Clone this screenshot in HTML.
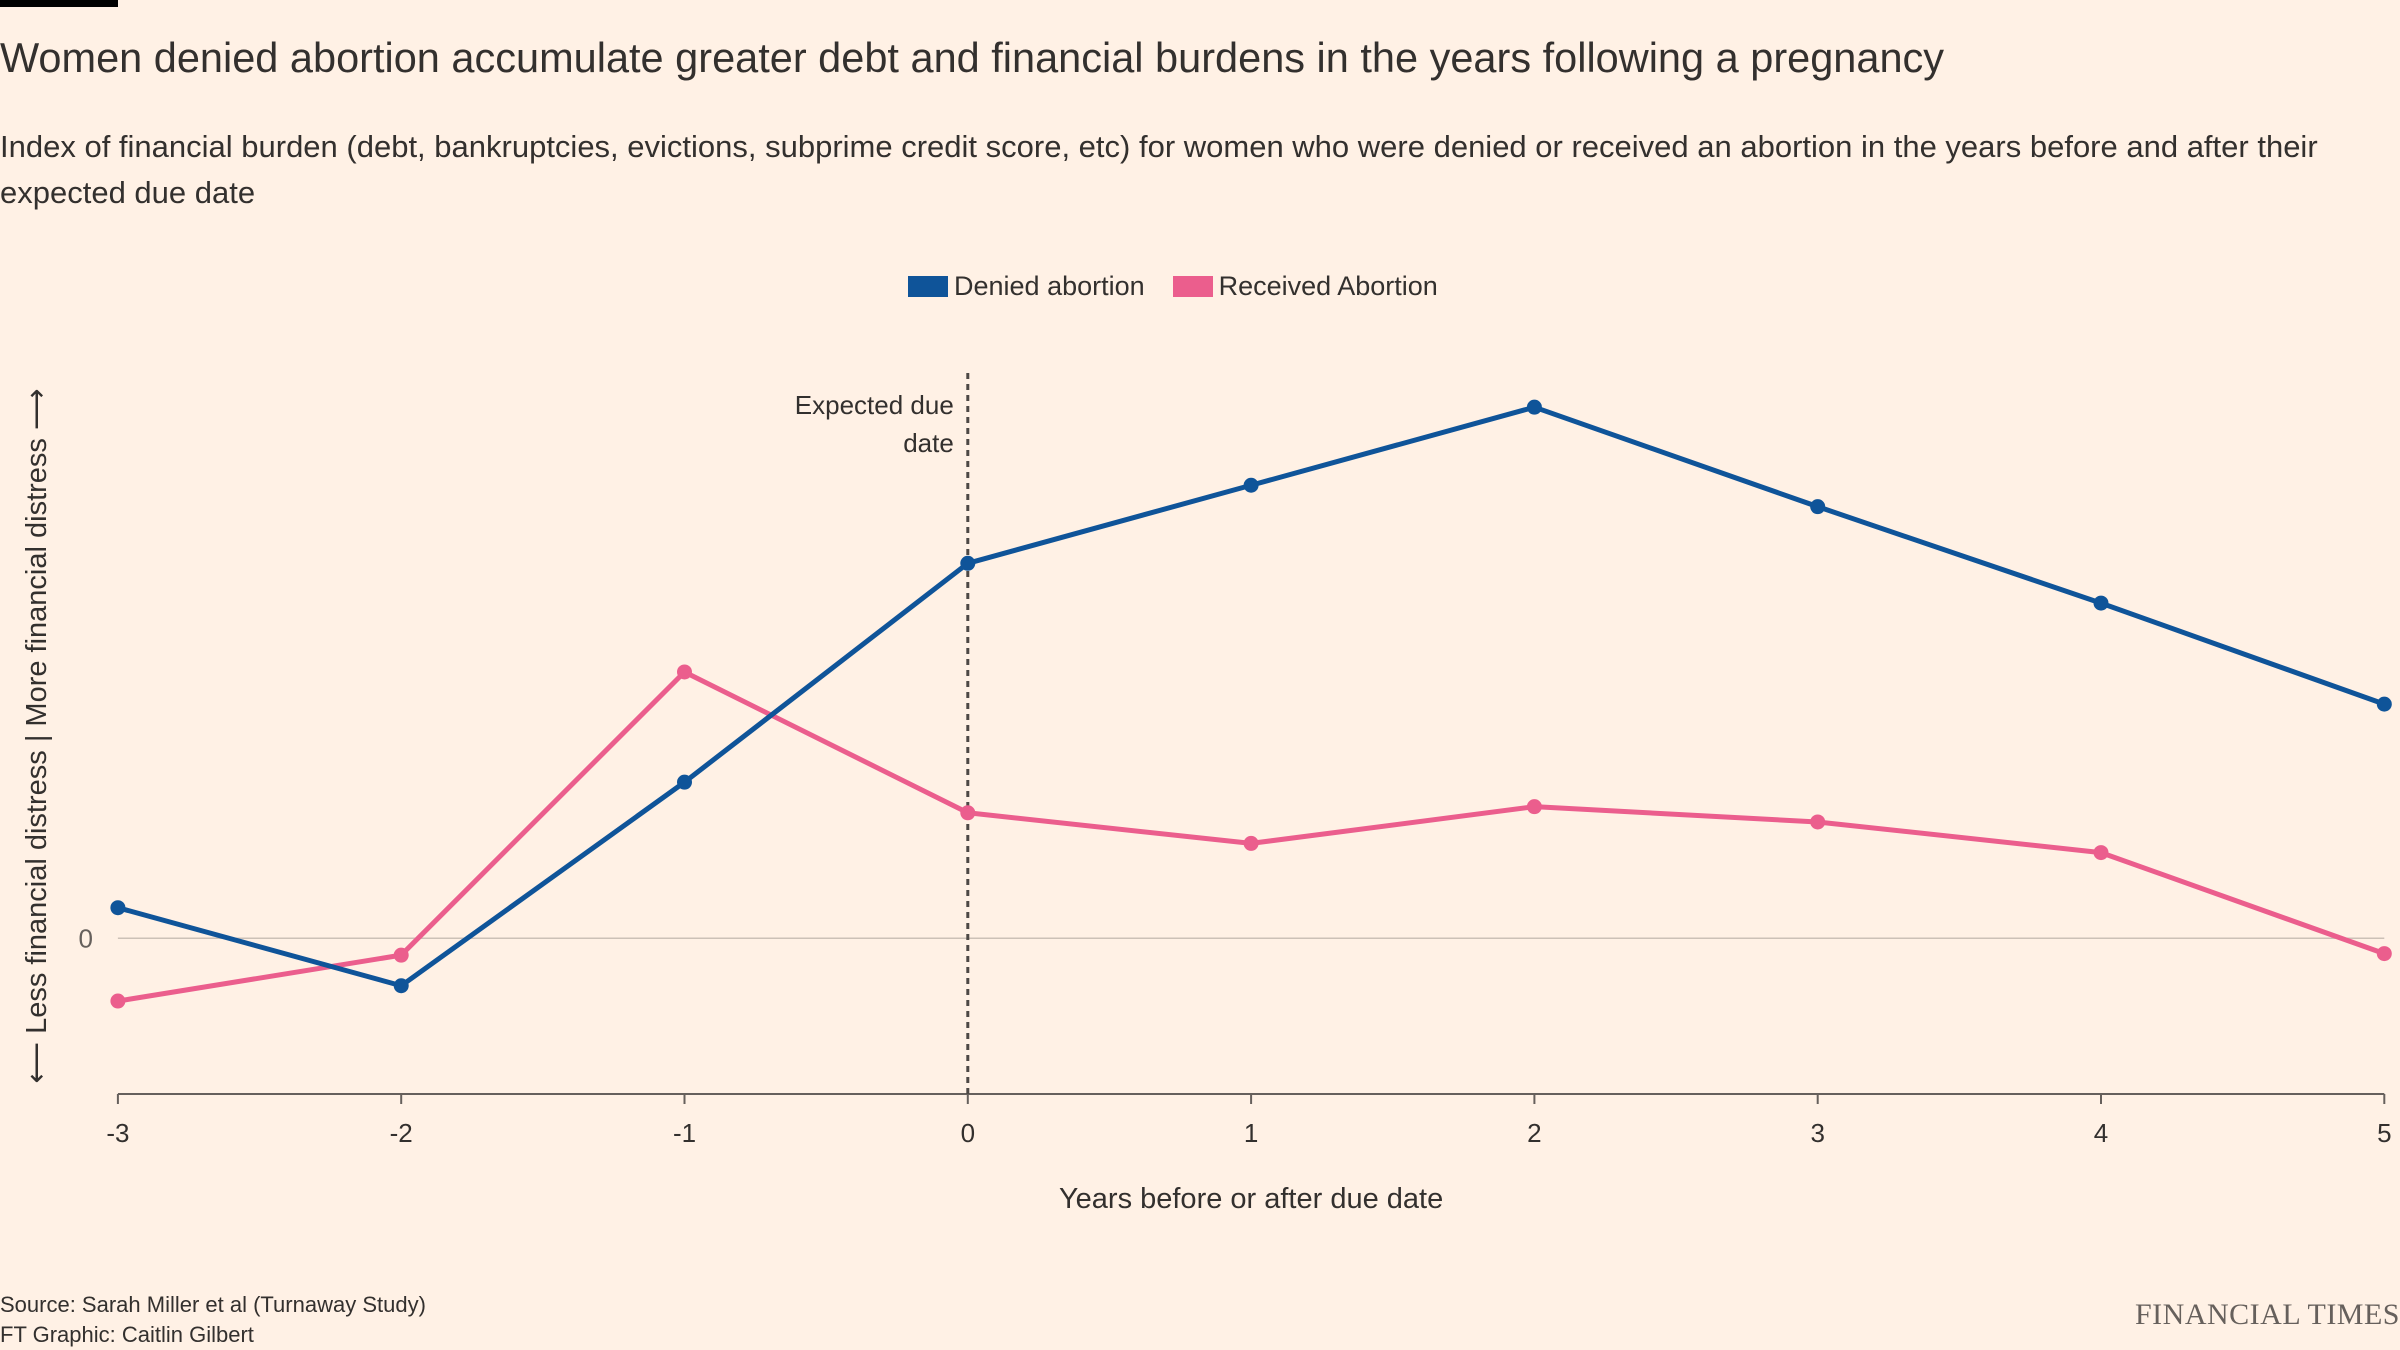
<!DOCTYPE html>
<html><head><meta charset="utf-8">
<style>
html,body{margin:0;padding:0;background:#fff1e5;}
body{width:2400px;height:1350px;position:relative;overflow:hidden;font-family:"Liberation Sans",sans-serif;color:#33302e;}
.t{position:absolute;white-space:nowrap;}
</style></head>
<body>
<div style="position:absolute;left:0;top:0;width:118px;height:7px;background:#000;"></div>
<div class="t" style="left:0;top:34px;font-size:41.5px;">Women denied abortion accumulate greater debt and financial burdens in the years following a pregnancy</div>
<div class="t" style="left:0;top:124px;font-size:31px;line-height:46px;">Index of financial burden (debt, bankruptcies, evictions, subprime credit score, etc) for women who were denied or received an abortion in the years before and after their<br>expected due date</div>
<div style="position:absolute;left:908px;top:271px;font-size:27px;display:flex;align-items:center;">
 <span style="display:flex;align-items:center;"><span style="display:inline-block;width:40px;height:21px;background:#0f5499;margin-right:6px;"></span>Denied abortion</span>
 <span style="display:flex;align-items:center;margin-left:28px;"><span style="display:inline-block;width:40px;height:21px;background:#eb5e8d;margin-right:6px;"></span>Received Abortion</span>
</div>
<svg id="chart" width="2400" height="1350" style="position:absolute;left:0;top:0;" xmlns="http://www.w3.org/2000/svg"></svg>
<div class="t" style="left:0;top:1290px;font-size:22px;line-height:30px;">Source: Sarah Miller et al (Turnaway Study)<br>FT Graphic: Caitlin Gilbert</div>
<div class="t" style="right:0;top:1298px;font-family:'Liberation Serif',serif;font-size:30px;letter-spacing:0.5px;color:#66605c;">FINANCIAL TIMES</div>
<script>
const years = [-3,-2,-1,0,1,2,3,4,5];
const denied = [2.0,-3.1,10.2,24.5,29.6,34.7,28.2,21.9,15.3];
const received = [-4.1,-1.1,17.4,8.2,6.2,8.6,7.6,5.6,-1.0];
const xTicks = ["-3","-2","-1","0","1","2","3","4","5"];
const yTicks = [0];
const NS="http://www.w3.org/2000/svg";
const svg=document.getElementById('chart');
const x=t=>117.9+(t+3)*283.3;
const y=v=>938.3-v*15.306;
function mk(tag,attrs){const e=document.createElementNS(NS,tag);for(const k in attrs)e.setAttribute(k,attrs[k]);svg.appendChild(e);return e;}
yTicks.forEach(v=>{
 const l=mk('line',{x1:x(-3),x2:x(5),y1:y(v),y2:y(v),stroke:'#ccc1b7','stroke-width':1.5});
 
 
 const t=mk('text',{x:93,y:y(v)+9,'font-size':26,fill:'#66605c','text-anchor':'end'});
 t.textContent=String(v);
 
 
});
const ax=mk('line',{x1:x(-3),x2:x(5),y1:1094,y2:1094,stroke:'#66605c','stroke-width':2});


years.forEach((t,i)=>{
 const tk=mk('line',{x1:x(t),x2:x(t),y1:1094,y2:1104,stroke:'#66605c','stroke-width':2});
 
 
 const lb=mk('text',{x:x(t),y:1142,'font-size':26,fill:'#33302e','text-anchor':'middle'});
 lb.textContent=xTicks[i];
 
 
});
const xt=mk('text',{x:x(1),y:1208,'font-size':29,fill:'#33302e','text-anchor':'middle'});
xt.textContent='Years before or after due date';


const yt=mk('text',{x:0,y:0,'font-size':29,fill:'#33302e','text-anchor':'middle',transform:'translate(46,736) rotate(-90)'});
yt.textContent='\u27F5 Less financial distress | More financial distress \u27F6';


const dl=mk('line',{x1:x(0),x2:x(0),y1:373,y2:1094,stroke:'#4d4845','stroke-width':3,'stroke-dasharray':'6,5'});


['Expected due','date'].forEach((s,i)=>{
 const a=mk('text',{x:x(0)-14,y:414+i*38,'font-size':26,fill:'#33302e','text-anchor':'end'});
 a.textContent=s;
 
 
});
function series(vals,color,name){
 const p=mk('polyline',{points:vals.map((v,i)=>x(years[i])+','+y(v)).join(' '),fill:'none',stroke:color,'stroke-width':5,'stroke-linejoin':'round'});
 
 
 vals.forEach((v,i)=>{
  const c=mk('circle',{cx:x(years[i]),cy:y(v),r:7.5,fill:color});
  
  
 });
}
series(received,'#eb5e8d','received');
series(denied,'#0f5499','denied');
</script>
</body></html>
